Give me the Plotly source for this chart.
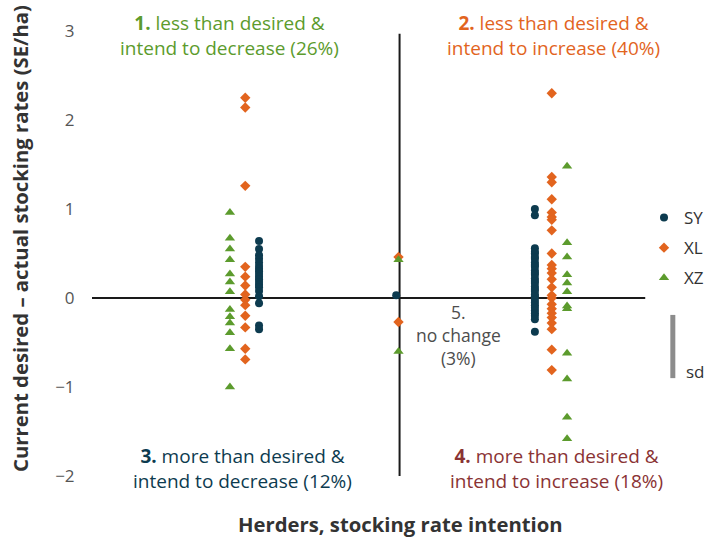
import plotly.graph_objects as go

# ---------------- data ----------------
categories = ["decrease", "no change", "increase"]
series_names = ["SY", "XL", "XZ"]

SY_decrease = [0.64, 0.55, 0.48, 0.44, 0.40, 0.36, 0.33, 0.30, 0.27, 0.24, 0.21,
               0.18, 0.15, 0.12, 0.08, 0.02, -0.06, -0.31, -0.35]
SY_nochange = [0.03]
SY_increase = [1.00, 0.93, 0.56, 0.52, 0.50, 0.46, 0.44, 0.40, 0.37, 0.35, 0.31,
               0.28, 0.26, 0.22, 0.19, 0.17, 0.13, 0.10, 0.08, 0.04, 0.02, -0.02,
               -0.05, -0.08, -0.11, -0.14, -0.17, -0.20, -0.24, -0.38]

XL_decrease = [2.25, 2.14, 1.26, 0.35, 0.24, 0.14, 0.04, -0.02, -0.08, -0.20,
               -0.33, -0.57, -0.69]
XL_nochange = [0.46, -0.27]
XL_increase = [2.30, 1.36, 1.30, 1.11, 0.96, 0.91, 0.88, 0.76, 0.50, 0.37, 0.33,
               0.28, 0.21, 0.12, 0.03, 0.00, -0.07, -0.12, -0.17, -0.22, -0.28,
               -0.35, -0.58, -0.81]

XZ_decrease = [0.96, 0.67, 0.55, 0.43, 0.27, 0.18, 0.07, -0.13, -0.21, -0.28,
               -0.39, -0.57, -1.00]
XZ_nochange = [0.43, -0.60]
XZ_increase = [1.48, 0.62, 0.46, 0.26, 0.17, 0.07, -0.09, -0.12, -0.62, -0.91,
               -1.34, -1.58]

sd_value = 0.71          # length of the standard-deviation scale bar
y_ticks = [-2, -1, 0, 1, 2, 3]
y_tick_labels = ["\u22122", "\u22121", "0", "1", "2", "3"]

# ---------------- style ----------------
FONT = "Open Sans"
C_SY = "#0d3b4f"
C_XL = "#e2641e"
C_XZ = "#5c9b2d"
C_RED = "#8a3334"
C_TXT = "#333333"

group_pos = {c: i + 1 for i, c in enumerate(categories)}
offsets = {
    "SY": {"decrease": 0.09, "no change": -0.015, "increase": -0.11},
    "XL": {"decrease": 0.0, "no change": 0.0, "increase": 0.0},
    "XZ": {"decrease": -0.10, "no change": 0.0, "increase": 0.10},
}
data = {
    "SY": {"decrease": SY_decrease, "no change": SY_nochange, "increase": SY_increase},
    "XL": {"decrease": XL_decrease, "no change": XL_nochange, "increase": XL_increase},
    "XZ": {"decrease": XZ_decrease, "no change": XZ_nochange, "increase": XZ_increase},
}
markers = {
    "SY": dict(symbol="circle", size=8, color=C_SY),
    "XL": dict(symbol="diamond", size=8, color=C_XL),
    "XZ": dict(symbol="triangle-up", size=9, color=C_XZ),
}

fig = go.Figure()
for name in series_names:
    xs, ys = [], []
    for c in categories:
        vals = data[name][c]
        xs += [group_pos[c] + offsets[name][c]] * len(vals)
        ys += vals
    fig.add_trace(go.Scatter(
        x=xs, y=ys, mode="markers", name=name, legendgroup=name,
        marker=markers[name], cliponaxis=False,
    ))

XMAX = 4.0
LINE_END = 3.61
LEG_X = 3.79

# quadrant lines
fig.add_shape(type="line", x0=0, x1=LINE_END, y0=0, y1=0,
              line=dict(color="#1a1a1a", width=2), layer="below")
fig.add_shape(type="line", x0=2.007, x1=2.007, y0=-2.0, y1=2.97,
              line=dict(color="#1a1a1a", width=2), layer="below")
# sd bar
fig.add_shape(type="line", x0=LEG_X, x1=LEG_X, y0=-0.19, y1=-0.19 - sd_value,
              line=dict(color="#8c8c8c", width=5))

ann = []
def label(x, y, text, color, size=19, xanchor="center"):
    ann.append(dict(x=x, y=y, xref="x", yref="y", text=text, showarrow=False,
                    xanchor=xanchor, yanchor="middle",
                    font=dict(family=FONT, size=size, color=color)))

label(0.90, 2.95, "<b>1.</b> less than desired &<br>intend to decrease (26%)", C_XZ)
label(3.01, 2.95, "<b>2.</b> less than desired &<br>intend to increase (40%)", C_XL)
label(0.98, -1.92, "<b>3.</b> more than desired &<br>intend to decrease (12%)", C_SY)
label(3.03, -1.92, "<b>4.</b> more than desired &<br>intend to increase (18%)", C_RED)
label(2.39, -0.416, "5.<br>no change<br>(3%)", "#4d4d4d", size=17.5)
label(3.86, -0.83, "sd", C_TXT, size=17, xanchor="left")

ann.append(dict(x=2.01, y=-2.54, xref="x", yref="y",
                text="Herders, stocking rate intention", showarrow=False,
                xanchor="center", yanchor="middle",
                font=dict(family=FONT, size=20.3, color=C_TXT, weight="bold")))
ann.append(dict(x=-0.1175, y=0.674, xref="paper", yref="y", textangle=-90,
                text="Current desired \u2013 actual stocking rates (SE/ha)",
                showarrow=False, xanchor="center", yanchor="middle",
                font=dict(family=FONT, size=20.3, color=C_TXT, weight="bold")))

fig.update_layout(
    width=705, height=537,
    margin=dict(l=92, r=0, t=0, b=0, autoexpand=False),
    paper_bgcolor="white", plot_bgcolor="white",
    font=dict(family=FONT, color=C_TXT),
    annotations=ann,
    showlegend=True,
    legend=dict(x=0.9005, y=0.6276, xanchor="left", yanchor="top",
                bgcolor="rgba(0,0,0,0)", font=dict(size=17, color=C_TXT),
                itemwidth=30, tracegroupgap=5, traceorder="grouped"),
    xaxis=dict(range=[0, XMAX], visible=False, showgrid=False, zeroline=False),
    yaxis=dict(range=[-2.685, 3.348], showgrid=False, zeroline=False, showline=False,
               tickvals=y_ticks, ticktext=y_tick_labels, ticks="outside",
               ticklen=13, tickcolor="rgba(0,0,0,0)",
               tickfont=dict(family=FONT, size=17, color="#555555")),
)

fig.write_html(
    "out.html",
    config={"displayModeBar": False},
    post_script=("document.documentElement.style.overflow='hidden';"
                 "document.body.style.margin='0';"
                 "document.body.style.overflow='hidden';"),
)
